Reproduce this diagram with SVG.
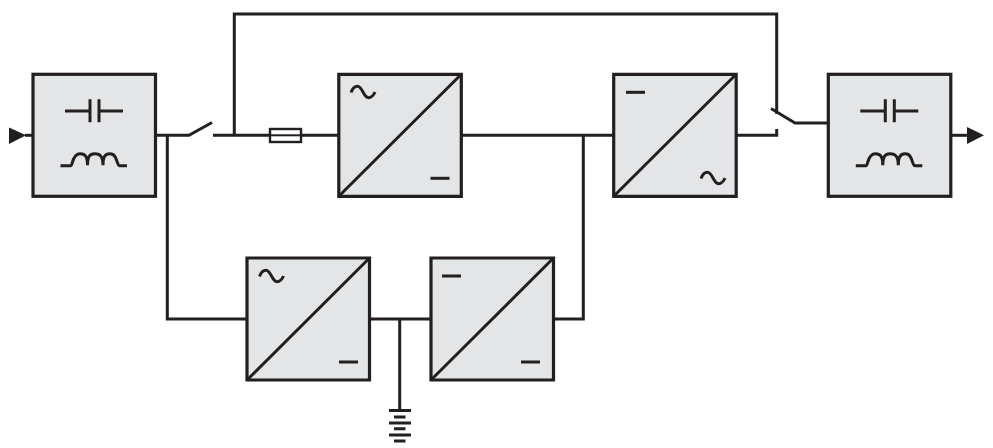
<svg xmlns="http://www.w3.org/2000/svg" width="993" height="448" viewBox="0 0 993 448">
<style>
.box{fill:#e4e5e7;stroke:#231f20;stroke-width:3.2}
.ln{fill:none;stroke:#231f20;stroke-width:3}
.sy{fill:none;stroke:#231f20;stroke-width:3}
.ah{fill:#231f20}
</style>
<defs>
<path id="tilde" class="sy" d="M0.500 7.500C2 3.500 4.500 1.300 7 1.300C12 1.300 13 12.700 18 12.700C20.500 12.700 23 10.500 24.500 7"/>
<path id="dash" class="sy" d="M0 0H19"/>
<g id="filter">
<rect class="box" x="0" y="0" width="122.500" height="122"/>
<path class="sy" d="M32 36.700H57M57 25V48M66 25V48M66 36.700H90"/>
<path class="sy" d="M27.500 91.500H37.500C40 91.500 39 79.500 47 79.500C54 79.500 54.500 85 54.500 91C54.500 85 55 79.500 62 79.500C69 79.500 70 85 70 91C70 85 70.500 79.500 77 79.500C85 79.500 83 91.500 87 91.500H94"/>
</g>
<path id="conv" class="box" d="M0 0H122.500V122H0Z"/>
<path id="diag" class="sy" d="M0 122L122.500 0"/>
</defs>
<g id="connectors">
<path class="ln" d="M25 135.300H33"/>
<path class="ln" d="M156 135.300H189L212 122.500"/>
<path class="ln" d="M167.300 135.300V319H247"/>
<path class="ln" d="M213 135.300H269.500M301 135.300H339"/>
<path class="ln" d="M234.300 135.300V14H776.700V114M771 108.500L795 123H828"/>
<path class="ln" d="M461 135.300H614M583.300 135.300V319H553"/>
<path class="ln" d="M736 135.300H776.700V129"/>
<path class="ln" d="M370 319H431M399.700 319V410"/>
<path class="ln" d="M951 135.300H967"/>
</g>
<g id="input-arrow"><path class="ah" d="M9 127.500L26 135.300L9 144Z"/></g>
<g id="output-arrow"><path class="ah" d="M967 127L984 135.300L967 144Z"/></g>
<g id="fuse"><rect x="270" y="129" width="31" height="13" fill="#fff" stroke="#231f20" stroke-width="2.400"/><path class="sy" d="M270 135.300H301" style="stroke-width:2"/></g>
<g id="input-filter"><use href="#filter" x="33" y="74.300"/></g>
<g id="output-filter"><use href="#filter" x="828.300" y="74.300"/></g>
<g id="rectifier"><use href="#conv" x="338.800" y="74.300"/><use href="#diag" x="338.800" y="74.300"/><use href="#tilde" x="350.500" y="85"/><use href="#dash" x="430.500" y="178.300"/></g>
<g id="inverter"><use href="#conv" x="613.700" y="74.300"/><use href="#diag" x="613.700" y="74.300"/><use href="#dash" x="626" y="92.300"/><use href="#tilde" x="700.500" y="171"/></g>
<g id="charger"><use href="#conv" x="247" y="258"/><use href="#diag" x="247" y="258"/><use href="#tilde" x="259" y="269"/><use href="#dash" x="339" y="362"/></g>
<g id="booster"><use href="#conv" x="431" y="258"/><use href="#diag" x="431" y="258"/><use href="#dash" x="442" y="276"/><use href="#dash" x="521" y="362"/></g>
<g id="battery"><path class="sy" d="M389 410.500H411M394 417H405.500M389 423H411M394 428.800H405.500M389 435H411M394 441H405.500"/></g>
</svg>
